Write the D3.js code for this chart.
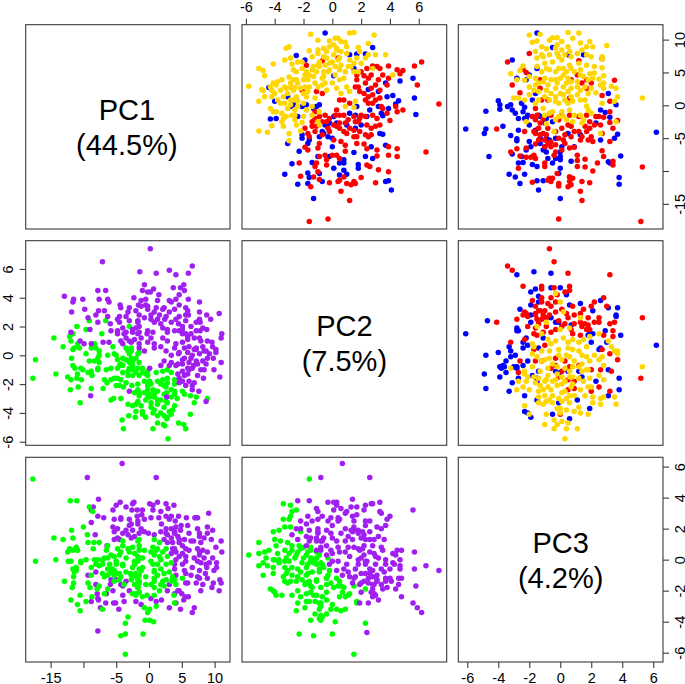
<!DOCTYPE html>
<html><head><meta charset="utf-8">
<script src="https://cdn.jsdelivr.net/npm/d3@7"></script>
<style>html,body{margin:0;background:#fff}svg{display:block}text{font-family:"Liberation Sans",Arial,sans-serif;fill:#000}</style>
</head><body><div id="c"></div>
<script>
// each row: first PC, second PC, lower-panel group (0 green, 1 purple)
const goldPC1PC2=[10.8,-1.5,1,11,1.2,1,11.1,1.5,1,10.7,2.9,1,9.9,-1,1,9.8,-.2,1,10.2,.2,1,10.2,.4,1,9.7,.6,1,9.6,.9,1,8.7,-3.2,1,8.9,-3,0,8.3,-1.6,1,8.4,-1,1,8.7,-.6,1,8.9,-.2,1,8.4,.3,1,7.9,1,1,8.8,1.8,1,9.4,2.5,1,7.7,3.7,1,7.7,3,1,8.2,1.9,1,7.2,-2.9,0,6.9,-3.3,0,6.3,-4.1,0,6.3,-2.8,0,6.6,-2.4,1,6.6,-2.1,1,5.6,-5.1,0,5.3,-4.8,0,4.5,-4.7,0,5.4,-2.7,0,5.1,-1.8,1,5.9,-1.3,1,6.6,-.9,1,7.2,-.4,1,7.7,.1,1,7.2,.5,1,6.9,1.2,1,7.2,1.7,1,7.2,2.3,1,5.6,2.8,1,4.6,4.2,1,2.9,-5.8,0,2.4,-4.9,0,2.2,-4.8,0,.6,-5.1,0,1.3,-4.7,0,2.3,-4.2,0,3.4,-4.1,0,3.6,-3.8,0,3.9,-3.5,0,4.3,-3,0,2.7,-2.9,1,2.7,-2.6,0,3.4,-2.4,0,3.9,-2,0,4.6,-1.6,1,5.1,-1.1,1,4.1,-.7,1,5.1,-.3,1,5.9,.2,1,5.1,.9,1,5.1,1.5,1,5.1,1.8,1,3.9,.5,1,2.8,1,1,2.6,.3,1,2.3,-.4,1,2.8,-1,0,2.8,-1.6,0,1.8,-2,0,1.3,-2.5,0,.8,-2.9,0,1.3,-3.4,0,.8,-3.8,0,1.3,-4.2,0,2.3,-2.7,0,2.6,-3.2,0,1.3,-1.8,0,.3,-2,0,-.2,-2.4,0,-.7,-2.6,0,-.5,-3.1,0,-1.2,-3.5,0,-1,-3.9,0,-.5,-4.3,0,-1,-4.1,0,-2.5,-3.5,0,-3.2,-3.4,0,-3.1,-4.2,0,-3.9,-5.1,0,-4.1,-4.5,0,-4.3,-3,0,-5.4,-3,0,-2.2,-2.6,0,-3,-2.5,1,-3.9,-2.2,0,-2.6,-2.1,0,-1.5,-1.4,0,-2.5,-1,0,-3,-.9,0,-1,-.9,0,-.2,.9,1,-.3,1.5,1,.6,1.6,1,2.1,1.2,1,1.8,.6,1,3.4,0,1,5.1,-.6,1,6.4,-.2,1,6.9,.4,1,8.9,1,1,7.4,-.6,1,7.4,-1.4,1,7.9,-1,1,.3,-3.6,0,-1.7,-3.2,0,-1.5,-2.8,0,
5.1,-2.5,0,5.6,-2.1,1,4.6,-1.9,1,5.4,-1.4,1,6.1,-1,1,6.1,-.5,1,6.6,0,1,6.1,.6,1,5.9,1.1,1,3.9,-2.5,0,3.9,-1.7,0,3.4,-1.2,0,3.4,-.5,1,4.6,.2,1,4.1,.8,1,5.9,1.3,1,3.4,-2.9,0,2.8,-3.3,0,2.3,-3.6,0,3.1,-3.9,0,1.8,-3.1,0,.8,-2.7,0,2.6,-2.2,0,2.1,-1.7,0,1.1,-1.2,0,.6,-2.4,0,-.7,-1.8,0,-.2,-1.4,0,.3,-3.3,0,.1,-2.9,0,-2,-3.4,0,-1.5,-2.6,0,-1.7,-2,0,1.8,-4,0,2.8,-4.3,0,5.4,.5,1,5.4,-.2,1,3.1,-.7,1,8.7,.3,1,8.2,-.4,1,8.2,.6,1,9.2,.1,1,6.4,1.5,1,6.4,2,1,7.7,2.5,1,4.4,-.6,1,4.4,-1.3,1,2.8,-1.9,0,3.9,-2.7,0,5.9,-.9,1];
const redPC1PC2=[6.6,6.2,1,6,5.7,1,3.1,5.9,1,.2,7.4,1,-7.1,6.5,1,5.4,4.5,1,5.3,4.9,1,4.8,4.7,1,6,3.9,1,5.6,3.3,1,5.9,3.1,1,6,2.8,1,5.6,2.4,1,4.5,2.2,1,4.1,2.5,1,3.9,1.7,1,2.8,1.8,1,2.1,1.9,1,1.3,2.5,1,1.6,2.8,1,2.3,3.3,1,3.1,3.8,1,-.2,4.4,1,-1,4.5,1,-.7,4.9,1,-.2,3.4,1,-2.3,4,1,-2,3.1,1,-3,3.3,1,-3.5,2.7,1,-1.5,2,1,-1.7,1.5,1,-2.5,1.8,1,-3.5,1.2,1,-1.5,.5,1,-2,-.2,0,-2.5,-.7,0,-3.2,-1.4,0,-3.5,-1.9,0,-1.5,-.5,0,-1,-1.2,0,-.7,.3,1,.8,.8,1,.3,1.2,1,-4.5,2.3,1,-4.8,1.7,1,-4.5,2.7,1,-4.3,1,1,-3.5,.5,0,-4,-.2,0,-4.8,-1.6,0,-5.8,-.9,0,-6.8,-1.7,0,-6.4,-1.9,0,-6.5,-1,0,-5.5,.6,0,-6.1,.9,1,-5.8,1.7,1,-5.9,2.2,1,-6.6,2.4,0,-6.8,3.1,1,-7.7,3.1,1,-6.3,3.9,1,-6.6,4.5,1,-7.8,4.5,1,-7.6,3.9,1,-9.1,2.4,0,-9.3,2.6,1,-10.1,3.9,1,-9.8,3.2,1,-11.8,3,1,-11,2,0,-11.6,1.5,0,-12.1,1.3,0,-10.9,.8,0,-11.6,.4,0,-11.8,-.2,0,-11.3,-.9,0,-10.9,-1.3,0,-10.8,-2.2,0,-12.4,-1.5,0,-10.1,-1,0,-8.8,-1.1,0,-8.8,-2.3,0,-9.1,-.4,0,-7.6,-.5,0,-7.6,0,0,-8.1,.5,0,-7,.9,1,-13.1,.6,0,-14.5,1.2,0,-17.7,-1.6,0,-17.3,-.3,0,-3.2,-1.1,0,-3.2,.3,0,-2.7,.9,1,-3.8,1.5,1,4.6,3.5,1,4.1,3.9,1,.3,2.8,1,.8,2.3,1,.8,.5,1,1.8,-.7,1,7.2,.4,1,6.8,-.7,1,2.3,-2.1,0,2.1,-1.1,0,6.1,-1.8,1,
-2,-1.2,0,-1.7,-.9,0,-2.5,-.4,0,-3,.1,0,-4,-1.2,0,-4.5,-.7,0,-3.5,-.3,0,-1.5,.2,0,-1.5,.8,1,-2.2,1.1,1,-2.5,1.6,1,-2,1.9,1,-3,2.4,1,-3.2,3,1,-4,1.9,1,-4.8,2.5,1,-4.8,1.5,1,-4,.8,1,2.6,2.7,1,3.1,3,1,3.9,3.2,1,4.6,2.7,1,3.4,2.3,1,5.1,2,1,4.6,1.7,1,1.1,3.3,1,.8,3,1,.3,2.5,1,-.5,3.5,1,2.8,1.6,1,1.8,2.2,1,-2.5,-1.4,0,-4.3,-1.7,0,-5.3,.1,0,-7.6,.3,0,-7.8,-.9,0,-8.3,-.4,0,-11.9,1,0,-11.4,.5,0,-11.9,1.6,1,-9.3,-1.2,0,-1.5,2.8,1,-1.2,3.8,1,-1.7,2.3,1,-2.7,.5,0];
const bluePC1PC2=[11,-.5,1,8.8,2.8,1,7.6,-2.5,1,6.9,-1.9,1,7.8,1.7,1,7.8,2.3,1,7.7,1.2,1,5.6,1.5,1,4.5,.1,1,4.1,5.6,1,3.7,4.7,1,3.4,3.7,1,2.1,3.2,1,2.4,2.5,1,2.7,-4.4,0,.6,-4,0,1.3,-3.1,0,.1,-2.7,0,1.5,4.2,1,.7,4.6,1,.2,4.4,1,1.1,5.7,1,-1.4,5.8,1,-.5,3.9,1,-1.6,3.5,1,-2.1,-4.3,0,-2,-3.9,0,-1.7,-2.4,0,-.2,-2.1,0,-.5,-1.3,0,.1,-.9,1,-1.7,.1,0,-3,-.4,0,-4,-.7,0,-5.3,-1.6,0,-5,-2.1,0,-5.8,-3.1,0,-7,-2.3,0,-4.8,-.3,0,-6.3,0,0,-3.5,1.6,1,-3,2,0,-.7,2.6,1,-4.3,3.3,1,-4.4,3.5,1,-6.1,3.7,1,-7.2,1.5,0,-7.8,2.3,1,-8.1,2.8,1,-7.8,-1,0,-8.9,-2.8,1,-8.7,-1.4,0,-9,1.8,1,-9.6,1.8,0,-8.8,.5,0,-8.8,.8,1,-9.6,.1,0,-10.3,-1.7,0,-10.5,-3.3,0,-12,-2.4,0,-11.9,-1.7,0,-11,-1.6,0,-11.6,-.7,0,-9.9,.8,1,-10.5,1,1,-11.6,3.7,1,-11.5,3.9,1,-12.9,4.1,1,-14.2,-1.3,0,-4.8,-.9,0,-1.2,1.2,1,-.2,1.7,1,
-.2,-2.9,0,.8,-2.5,0,.1,-1.8,0,-.2,-1.1,0,-3,-.5,0,-2.7,-.2,0,-4.3,-.6,0,-5,0,0,-2.7,.3,0,-3,1,1,-1.5,1.6,1,-1.7,2.4,1,-.2,3.2,1,1.3,3.8,1,-1.2,3.4,1,-4.5,-2.1,0,-5.8,-1.7,0,-7.8,-.2,0,-8.3,.8,0,-10.4,-.9,0,-10.6,.5,0,-6.3,2.7,1];
const goldPC1PC3=[10.7,-2,1,10.8,-1.3,1,11.1,.5,1,11,1.2,1,9.6,-1.8,1,9.8,-1.5,1,9.9,-.7,1,10.3,-.5,1,10.3,-.2,1,9.7,.1,1,10.2,.8,1,9.5,1.3,1,8.9,1.7,1,9.7,1.9,1,8.9,2.1,1,9.1,3,1,8.9,.5,1,8.4,.1,1,8.7,-.3,1,8.6,-.9,1,8.2,-1.6,1,7.9,1.1,1,8.4,1.4,1,7.7,1.7,1,7.4,2,1,7.4,2.7,1,7,2.7,1,7.2,-1.5,1,7.4,-1.1,1,7.7,-.7,1,7.9,-.2,1,7.7,.3,1,7.4,.7,1,6,-2.4,1,5.3,-2.6,1,4.8,-3.2,1,3.9,-2.8,0,3.8,-2.3,0,4.4,-2,1,5.9,-1.5,1,6.4,-1,1,6.6,-.5,1,6.9,.1,1,6.1,.6,1,6.4,1.2,1,6.1,1.7,1,5.9,2.2,1,5.7,2.7,1,4.5,2.8,1,4.8,1.9,1,4.4,1.5,1,5.1,.9,1,5.1,.4,1,5.6,-.1,1,5.4,-.7,1,5.1,-1.2,0,4.1,-1.6,0,3.1,-1.6,1,3.6,-1.1,0,3.9,-.6,1,4.1,0,1,4.1,.5,1,3.6,1.1,1,2.8,1.6,1,4.1,2.1,1,4,2.5,1,3.4,2.8,1,2.9,3.3,1,2.6,3.6,1,2.6,2.8,1,1.9,2.3,1,1.8,1.8,1,2.3,1.3,1,2.6,.7,0,2.8,.2,0,2.6,-.3,0,2.3,-.9,0,2.1,-1.4,0,1.6,-2,0,2.3,-1.7,0,1.1,-3,0,1.1,-2.7,1,.8,-2.3,0,1.3,-.3,0,1.6,.2,0,1.3,.7,0,.8,1.3,0,-.1,1.7,1,-.7,1.8,1,1.3,3.7,1,.6,3.5,1,1.1,5.3,1,.3,-1.6,0,-.5,-1.1,0,-1.5,-1,0,-1,-.5,0,-1,.1,0,-.7,.6,0,-1.5,1.3,0,-1.2,2,1,-2.5,3.6,1,-2.5,-2.2,0,-2.8,-.9,0,-2.2,-.3,0,-1.7,.2,0,-2.5,.8,0,-2.7,1.4,1,-4.3,2.6,1,-4,-.4,0,.3,.5,0,.3,-.1,0,.8,-.7,0,.3,2.7,1,
7.7,-1.2,1,7.4,-.1,1,8.2,.6,1,5.6,-.9,1,5.1,-.3,1,5.6,.2,1,5.6,.7,1,5.4,1.3,1,4.1,-1,1,3.4,-1.4,0,3.9,-.3,1,4.6,.2,1,3.6,.7,1,4.6,1.3,1,3.1,-.8,0,3.4,-.2,0,3.4,.4,1,2.8,1.1,1,1.8,-.6,0,1.8,0,0,2.1,.5,0,1.6,1.1,0,.8,.3,0,.6,.8,0,.6,-.3,0,-1.2,-.7,0,-1.7,-.1,0,-2.2,.4,0,-1.5,.9,0,-2.2,1.5,1,.8,-1.4,0,1.3,-1,0,2.8,-2,1,3.9,1.8,1,4.9,2.2,1,3.1,2.6,1,2.6,2,1,.8,1.6,1,8.9,-1.2,1,9.2,-.2,1];
const redPC1PC3=[7.9,-2,1,6.6,-3.4,1,5.5,-2.4,1,5,-2.2,1,3.1,-3.1,1,1.9,-2.6,1,3.8,3.5,1,.6,3.2,1,4.6,1.1,1,6.8,1.2,1,3.9,1.7,1,3.4,2,1,1.5,2.7,1,3.9,-1.3,0,2.6,-1.3,0,.8,-.8,0,-.5,-1.6,0,-1.5,-1.5,0,-3.6,-4.1,0,-1,3.2,1,-1.7,2.3,1,-1.8,2.8,1,-2.6,3.2,1,-2.3,3.7,1,-3.5,3.4,1,-3,2.2,1,-4,1.7,1,-1.7,1.2,0,-3,.5,0,-2.2,-.1,0,-3.5,-.8,0,-3.5,-1.4,1,-4,-2.3,1,-4.3,-1.6,1,-4.5,-.9,0,-4,-.3,0,-4.5,.3,0,-4,.9,0,-4.8,1.4,1,-4.8,2,1,-5.5,2.1,1,-5.5,3.2,1,-5.9,-1.6,1,-6.5,-2.2,1,-5.8,-.8,0,-6,-.3,0,-5.3,.2,0,-6.6,-2.8,1,-7.1,-3.2,0,-7.7,-2.6,1,-7.9,-2.2,1,-7.6,-1.7,0,-8.1,-1.6,1,-7.1,-.3,0,-7.6,-.4,0,-6.5,.6,0,-6.4,.9,1,-7.6,1.1,0,-8.2,1.6,1,-6.9,2.7,1,-7.8,2.8,1,-8.8,2.4,1,-8.4,1.1,0,-9.3,1.1,0,-9.4,1.6,0,-10,2.1,0,-8.5,3.4,1,-9.1,3.4,0,-9.6,-2.7,0,-8.8,-1,0,-9.3,-1,1,-10.4,-.2,0,-11.7,-1.8,0,-11.4,-.8,0,-11.1,-.5,0,-11.9,-.1,0,-12.3,-.1,0,-12.4,.5,0,-10.9,.6,0,-11.1,.8,0,-11.6,.6,0,-11.6,1.4,0,-11.8,1.9,0,-13.1,1.3,0,-14.5,1.4,0,-9.4,5.3,1,-17.3,-.1,0,-17.7,5.2,0,-3.5,.1,0,-3.2,.7,0,-3.5,1.9,1,-3,2.6,1,-4.3,-1.1,0,
-4,-1.7,1,-4.5,-1.3,0,-5.3,-1,0,-5.6,-.6,0,-5,-.1,0,-5.8,.3,0,-4.8,.7,0,-4,1.2,0,-3.2,1.6,1,-2.5,1.9,1,-2.7,-1.3,0,-2,-1.1,0,-1.7,-1.8,0,-1.5,-.6,0,-1.5,.6,0,-1.5,1.7,1,-6.3,-.6,0,-6.3,-1,0,-5.3,-1.4,0,-6.8,.1,0,-5.3,1.8,1,-7.9,-1.9,0,-10.9,.6,0,-12.1,.7,0,-11.1,-.7,0,-11.6,-.6,0,2.6,1.7,1,3.4,1.4,1,3.9,.7,1,1.1,.6,0,.8,-1.2,0,-2.2,-1.6,0,-5.3,1.3,1,-1.7,2.5,1,-4.3,2.7,1];
const bluePC1PC3=[11,-1.5,1,6.9,-3.1,1,4.1,-2.8,1,5.6,-1.5,1,4.6,-2,1,8.8,-.5,1,7.7,.5,1,7.1,2.7,1,7.7,1.5,1,.1,3.6,1,1.8,3.1,1,.7,-4,0,.1,-3.9,0,-.6,-3.9,0,-.9,-4.8,0,-.2,-3.4,0,.1,-3.2,0,-.7,-3.1,0,-1.2,-2.9,1,-2,-2.7,1,.3,-2.5,1,-.3,-2.3,0,-2,-2.3,0,-1.5,-2.1,0,-3,-2,1,-3.8,-2.7,1,-3.2,-3.7,0,-3.6,-6.1,0,-3.6,-4.8,0,-4.3,-4.9,0,-4.6,-3.2,1,-5.1,-2.8,1,-5.4,-2.8,1,-5.5,-2,1,-5.8,-1.3,1,-5,-.9,0,-5.3,-.7,0,-4.1,6.2,1,-4.4,3.7,1,-5,3.5,1,-5.3,2.6,1,-2.7,2.3,1,-.7,2.6,1,-1.1,2.9,1,-1.8,3.2,1,-7.7,3.9,1,-8.6,3.1,0,-8.8,3.2,1,-8.5,.7,0,-7.1,0,0,-8.3,0,0,-9.6,0,0,-10.4,-.1,0,-6.3,.9,0,-7.1,-.9,0,-8.1,-.8,1,-8.8,-.5,0,-7.8,-4.6,1,-7.4,-3.1,1,-6.8,-2.2,0,-9,-1.8,0,-8.7,-2.4,0,-8.8,-2.7,1,-9.3,-1.5,0,-10.5,-3.3,0,-10.5,-2.3,0,-10.9,-2.9,0,-11.9,-2.6,0,-11.5,-1.5,0,-11.5,-1.1,0,-12.9,-1.4,0,-14.2,0,0,-11,3.8,0,-12,3.8,0,-1.5,-1.4,0,-2,-.9,0,
-2,-2.2,0,-1.7,-1.8,0,-1.7,-1.3,0,-2.7,-1,0,-2.5,-.5,0,-1.5,.1,0,-5,-1.3,1,-6.3,-1,0,-5,-.3,0,-6.3,.1,0,-4.3,.5,0,-4.5,1.3,1,-1,-2.4,0,-3.8,-1.6,0,-7.8,0,0,-8.1,-.3,0,-7.8,-2.5,1,-6.3,-1.9,0,-6.8,-1.1,0,.8,-1.8,0,1.8,-1.6,0,3.9,-2.2,1];
const goldPC2PC3=[-.8,5.3,1,.3,3.7,1,.1,3.7,1,.6,3.3,1,1,3.1,1,-.7,2.8,1,-.1,2.7,1,-3.4,3.6,0,-2.9,3.5,0,-2.9,2.8,0,-3,2.6,0,-3.4,2.6,0,-2.9,2.1,0,-2.8,1.6,1,-3.3,2.1,0,-4.1,1.8,0,-4,1.3,0,-5.1,1.1,0,-5.8,.3,0,-5.1,.4,0,-4.7,.5,0,-4.6,.1,0,-4.8,-.2,0,-4.5,-.4,0,-5.1,-.4,0,-4.8,-1,0,-4.1,-.9,0,-4,0,0,-3.7,0,0,-3.8,.4,0,-3.9,.9,0,-3.6,1.2,0,-3.3,.6,0,-3.2,.1,0,-3.3,-.5,0,-3.2,-.9,0,-3.3,-1.4,0,-3.5,-2.3,0,-4.1,-2,0,-2.4,-2.8,0,-2.2,-2.4,0,-2.4,-2,0,-2.5,-1.4,0,-2.8,-1,0,-2.8,-.5,0,-2.6,.1,0,-2.8,.6,0,-2.4,1.3,1,-1.8,1.5,1,-2.2,2,1,-1.7,2.8,1,-1.4,2.5,1,-1.6,1.9,1,-1.1,1.4,1,-1.5,.8,0,-1.8,.3,0,-2.1,-.2,0,-2.2,-.8,0,-2.1,-1.3,0,-1.5,-1.7,0,-1.8,-2.2,0,-1.8,-2.7,0,-.9,-3.2,0,-1.1,-2.3,0,-.8,-1.8,0,-1.1,-1.3,0,-1.4,-.8,0,-1.3,-.2,0,-.9,.3,0,-.8,.8,1,-.6,1.4,1,-.4,1.9,1,-.3,2.5,1,0,2.2,1,-.1,1.7,1,.3,1.2,1,-.1,.6,1,-.3,.1,0,-.6,-.5,0,-.3,-1,0,-.1,-1.5,0,.1,-1.8,0,.3,-1.2,0,.3,-.7,1,.4,-.1,1,.5,.5,1,.9,1.2,1,.6,1.7,1,1.5,2.5,1,1.3,1.9,1,1.1,1.5,1,1.1,.8,1,1.2,.2,1,1,-.3,1,1.1,-.8,1,1.5,-1.2,1,2,-1.5,1,2.3,-.9,1,4.3,-.3,1,3.7,0,1,3,.2,1,2.6,1.3,1,1.9,.6,1,1.8,0,1,.8,-.6,1,.8,-1.8,0,.6,-1.7,0,-1.3,-2.3,0,-1.5,-2.1,0,.3,3.5,1,
-.4,-1.2,0,-.2,-.7,0,0,-.1,1,0,.4,1,-.4,.9,1,-1.6,-1.4,0,-1.8,-1,0,-1.8,-.5,0,-1.5,.1,0,-1.1,.6,1,-1.6,1.2,1,-1,1.7,1,-2.4,-1.1,0,-2.4,-.6,0,-3,-.1,0,-3,.4,0,-2.8,.9,0,-2.9,-1.4,0,-3.4,-1.1,0,-3.1,-.7,0,-3.7,-.2,0,-2,.8,0,-2.5,.3,0,-.9,-.8,0,-.8,-.2,0,.4,.8,1,0,1.4,1,.9,.5,1,-.8,1.2,1,-1,1.8,1,-1.7,-.3,0,-2,.1,0,-1.7,-.9,0,-1.9,-1.6,0,-2.2,1.8,0,-2.2,.7,0,-1.5,.6,0];
const redPC2PC3=[7.4,-.7,1,6.5,-.4,1,6.2,-3.4,1,5.9,-3.1,1,5.7,.5,1,5.6,3.2,1,4.8,-2.4,1,4.8,-1.2,1,4.6,-1.2,1,4.7,-.4,1,4.8,.6,1,4.5,.6,1,4.4,.3,1,4,-.6,1,4,-1.2,1,3.8,-1.8,1,4.2,-.2,1,4,2.8,1,3.7,2.2,1,3.4,2,1,3.4,3,1,3.4,-1.6,1,3.1,-1.3,1,3.4,-.6,1,3.2,.1,1,3.4,.8,1,3,-2.3,1,2.9,-1.6,1,2.8,-1.1,1,2.8,-.7,1,2.9,1.3,1,2.5,-2.8,1,2.3,-4.1,0,2.5,-1.2,1,2.6,.5,1,2.6,1.8,1,2.6,2.5,1,2.6,5.3,1,2,-2.1,1,2.2,-1.4,1,2,-.9,1,2.2,.9,1,2.2,1.6,1,2.3,2.2,1,2.2,3.2,1,2.3,3.5,1,1.7,3.4,1,1.5,-1.7,0,1.4,-1.5,1,1.8,-.3,1,1.8,.7,1,2,1.4,1,1.8,1.9,1,.9,-3.2,0,1.3,3.4,1,1.4,2.8,1,1.1,-2.3,0,.4,-1.7,0,.7,-1,1,.4,2.7,1,.1,3.2,1,-.3,3.7,1,-.4,-2.6,0,-.4,-1.6,0,-.2,-.3,1,-.4,.3,1,-1,2,1,-1.1,3.3,1,-1.2,-2.7,0,-1,2.6,1,-1.6,5.2,0,-1.7,.5,0,-1.1,.1,0,-2.2,2.5,1,-2.5,2,1,-2.5,3.2,0,-4.1,0,0,-2.3,.9,0,-.9,-.6,0,
3.1,-1.4,1,3.1,-1,1,3,-.3,1,2.9,.4,1,2.8,.9,1,3.2,1.5,1,2.5,-1.5,1,2.6,-.9,1,2.4,-.1,1,2.2,.3,1,2.3,1.3,1,2.1,1.8,1,2.3,2.5,1,1.9,-1.6,1,1.6,-1.1,1,1.6,-.6,1,2,.1,1,1.5,.8,1,1.4,1.3,1,1.8,1.7,1,3.6,-.8,1,3.7,-.3,1,3.7,-1.2,1,2.8,-1.6,1,2.7,-2.1,1,2.9,-2.2,1,2.8,-2.4,1,-.4,-1.2,0,-.7,-.3,0,-.8,.6,1,-.7,1.2,1,-1.5,-.1,0,-1.8,.9,1,-2.4,.5,0];
const bluePC2PC3=[1.5,-6.1,0,5.8,-1.7,1,5.6,-2.8,1,5.7,-.6,1,4.6,-1.6,1,4.4,-1.9,1,4.7,-.6,1,4.7,0,1,4.1,-1.4,1,3.7,-1.4,1,3.5,-1.9,1,4.2,.4,1,3.8,2.6,1,3.2,-2.6,1,2.8,-1.9,1,2.4,-4.7,1,2.3,-1.9,0,2.6,-.6,1,3.5,.6,1,3.6,1.3,1,3.1,2.1,1,3.3,3.1,1,3.3,3.7,1,2.8,3.6,1,2.7,3.6,1,1.9,-2.8,1,1.7,-2.8,0,1.7,-2.7,0,1.7,2.9,1,1.4,3.9,1,1.2,-2.2,0,.9,-2.4,0,.6,-3.3,0,.5,-2.4,0,.2,-4,0,.3,-3.2,0,0,-4.8,0,0,-2.9,0,.7,6.2,1,-.1,-3.2,0,-.4,-3.5,0,-.4,-2.1,0,-.7,-3.7,0,-.8,-3.9,0,-.9,-3.8,0,-1.2,-3.5,0,-1.3,-4.9,0,-1.5,-3.9,0,-.9,-2.8,0,-1.6,-2.7,0,-1.9,-3.1,0,-2.3,-4.8,0,-2.5,-3.3,0,-2.8,-2.3,0,-3.1,-1.5,0,-3.9,-2.3,0,-4,-2.1,0,-4.3,-1.9,0,-4.1,-.5,0,-4.4,.6,0,-3.3,-.1,0,-3.7,1.9,0,-3.1,1.1,0,-2.8,3.1,0,-2.4,3.8,1,-1.6,3.8,1,-1.8,2.3,1,-1,3.1,1,.9,3,1,.5,2.6,1,.9,2,1,1.5,1.9,1,-1.2,0,0,-1.1,-1.4,0,-1.6,-1.5,0,2.3,-.3,1,-1.1,1.2,1,
2.3,-.1,1,2.1,.7,1,1.4,1.8,1,1.5,2.1,1,.7,-2.1,0,.5,-1.4,0,1.2,-1.1,1,-1.4,-1.8,0,-1.8,-1.5,0,-.8,-2.8,0,-.7,-2.4,0,-1.1,-.3,0,-1.1,.5,0,-1.5,1.4,1,.4,2.5,1,-.8,-3,0,-.8,-3.6,0];

const tickPC1=[-15,-10,-5,0,5,10], shownPC1=[-15,-5,0,5,10], shownPC1Right=[-15,-5,0,5,10];
const tickEven=[-6,-4,-2,0,2,4,6];
const titles=[["PC1","(44.5%)"],["PC2","(7.5%)"],["PC3","(4.2%)"]];
const upperColours=["#0000FF","#FF0000","#FFD700"], lowerColours=["#00FF00","#A020F0"];

const col=[[25.7,230],[242,446.7],[458.3,663]], row=[[24.7,229],[240.7,445.3],[457.3,662]];
const xDom=[[-18.8,12.35],[-6.27,7.94],[-6.58,6.63]], yDom=[[12.27,-18.83],[7.96,-6.25],[6.6,-6.6]];
const X=i=>d3.scaleLinear().domain(xDom[i]).range(col[i]);
const Y=i=>d3.scaleLinear().domain(yDom[i]).range(row[i]);
const svg=d3.select("#c").append("svg").attr("width",685).attr("height",684);
const triples=a=>d3.range(0,a.length,3).map(i=>[a[i],a[i+1],a[i+2]]);
const R=2.75;
function dots(rows,sx,sy,color,xKey,yKey){
  svg.append("g").selectAll("circle").data(rows).join("circle")
    .attr("cx",d=>sx(d[xKey])).attr("cy",d=>sy(d[yKey])).attr("r",R).attr("fill",color);
}
function upper(c,r,sets){ // first PC on y, second on x
  sets.forEach((s,k)=>dots(triples(s),X(c),Y(r),upperColours[k],1,0));
}
function lower(c,r,sets,purpleOnTop){ // first PC on x, second on y
  const rows=sets.flatMap(triples);
  const order=purpleOnTop?[0,1]:[1,0];
  order.forEach(g=>dots(rows.filter(d=>d[2]===g),X(c),Y(r),lowerColours[g],0,1));
}
upper(1,0,[bluePC1PC2,redPC1PC2,goldPC1PC2]);
upper(2,0,[bluePC1PC3,redPC1PC3,goldPC1PC3]);
upper(2,1,[bluePC2PC3,redPC2PC3,goldPC2PC3]);
lower(0,1,[bluePC1PC2,redPC1PC2,goldPC1PC2],true);
lower(0,2,[bluePC1PC3,redPC1PC3,goldPC1PC3],false);
lower(1,2,[bluePC2PC3,redPC2PC3,goldPC2PC3],true);

for(let r=0;r<3;r++)for(let c=0;c<3;c++){
  svg.append("rect").attr("x",col[c][0]).attr("y",row[r][0])
    .attr("width",col[c][1]-col[c][0]).attr("height",row[r][1]-row[r][0])
    .attr("fill","none").attr("stroke","#3a3a3a").attr("stroke-width",1.1);
}
titles.forEach((t,i)=>{
  const cx=(col[i][0]+col[i][1])/2+(i==0?-1:0), cy=(row[i][0]+row[i][1])/2;
  t.forEach((s,j)=>svg.append("text").attr("x",cx).attr("y",cy-7+35*j).attr("text-anchor","middle").attr("font-size",29).text(s));
});
function styleAxis(g){
  g.select(".domain").remove();
  g.selectAll(".tick line").attr("stroke","#3a3a3a").attr("stroke-width",1.1);
  g.selectAll("text").attr("font-size",14.5).attr("font-family",'"Liberation Sans",Arial,sans-serif').attr("fill","#000");
}
function hAxis(kind,scale,y,ticks,shown){
  const ax=(kind=="top"?d3.axisTop:d3.axisBottom)(scale).tickValues(ticks).tickSize(6)
    .tickFormat(d=>shown.includes(d)?String(d):"").tickPadding(kind=="top"?6.5:5);
  svg.append("g").attr("transform",`translate(0,${y})`).call(ax).call(styleAxis);
}
function vAxis(kind,scale,x,ticks,shown,baseline){
  const ax=(kind=="left"?d3.axisLeft:d3.axisRight)(scale).tickValues(ticks).tickSize(6)
    .tickFormat(d=>shown.includes(d)?String(d):"");
  const g=svg.append("g").attr("transform",`translate(${x},0)`).call(ax).call(styleAxis);
  g.selectAll(".tick text").attr("x",null).attr("y",null).attr("dy",null)
    .attr("text-anchor","middle").attr("transform",`translate(${baseline-x},0) rotate(-90)`);
}
hAxis("top",X(1),row[0][0],tickEven,tickEven);
hAxis("bottom",X(0),row[2][1],tickPC1,shownPC1);
hAxis("bottom",X(2),row[2][1],tickEven,tickEven);
vAxis("right",Y(0),col[2][1],tickPC1,shownPC1Right,684.5);
vAxis("right",Y(2),col[2][1],tickEven,tickEven,684.5);
vAxis("left",Y(1),col[0][0],tickEven,tickEven,12.5);
</script></body></html>
